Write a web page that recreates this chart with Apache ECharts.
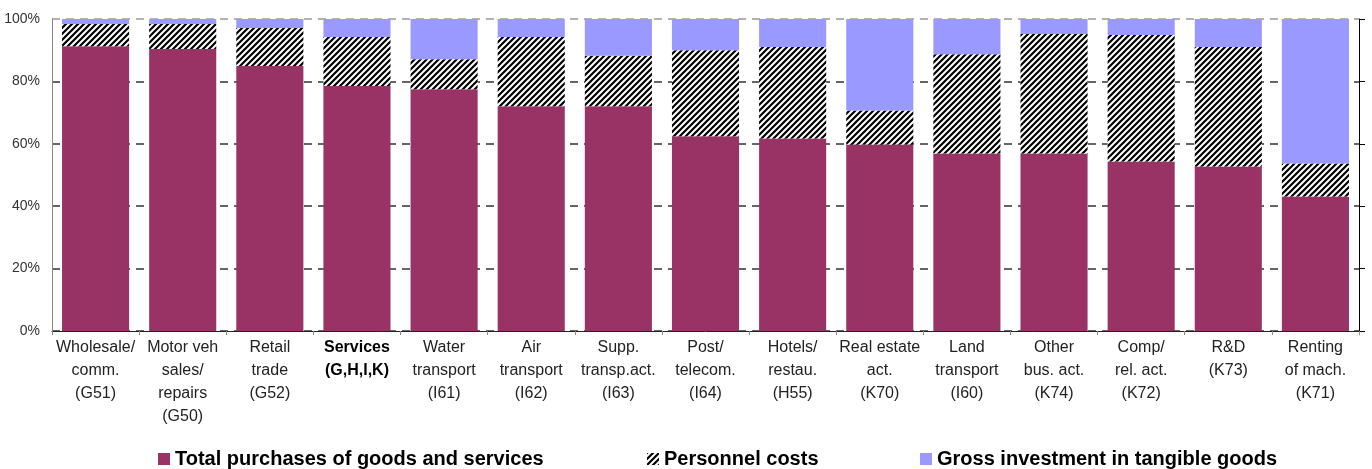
<!DOCTYPE html>
<html>
<head>
<meta charset="utf-8">
<script src="https://cdn.jsdelivr.net/npm/echarts@6/dist/echarts.min.js"></script>
<style>
  html, body { margin: 0; padding: 0; background: #fff; }
  #chart { width: 1372px; height: 469px; }
</style>
</head>
<body>
<div id="chart"></div>
<script>
// Activities (NACE codes), ordered by share of purchases
const categories = [
  'Wholesale/\ncomm.\n(G51)',
  'Motor veh\nsales/\nrepairs\n(G50)',
  'Retail\ntrade\n(G52)',
  'Services\n(G,H,I,K)',
  'Water\ntransport\n(I61)',
  'Air\ntransport\n(I62)',
  'Supp.\ntransp.act.\n(I63)',
  'Post/\ntelecom.\n(I64)',
  'Hotels/\nrestau.\n(H55)',
  'Real estate\nact.\n(K70)',
  'Land\ntransport\n(I60)',
  'Other\nbus. act.\n(K74)',
  'Comp/\nrel. act.\n(K72)',
  'R&D\n(K73)',
  'Renting\nof mach.\n(K71)'
];

// Shares of total expenditure (%)
const purchases  = [91.3, 90.4, 84.9, 78.5, 77.5, 72.0, 72.0, 62.4, 61.7, 59.8, 56.9, 56.9, 54.3, 52.7, 43.1];
const personnel  = [ 7.1,  8.0, 12.2, 15.7,  9.6, 22.2, 16.2, 27.6, 29.3, 10.9, 31.8, 38.3, 40.6, 38.3, 10.6];
const investment = [ 1.6,  1.6,  2.9,  5.8, 12.9,  5.8, 11.8, 10.0,  9.0, 29.3, 11.3,  4.8,  5.1,  9.0, 46.3];

const seriesNames = [
  'Total purchases of goods and services',
  'Personnel costs',
  'Gross investment in tangible goods'
];

const yTicks = [0, 20, 40, 60, 80, 100];

// Black/white diagonal hatching for personnel costs
function hatch() {
  const s = 6;
  const c = document.createElement('canvas');
  c.width = s; c.height = s;
  const g = c.getContext('2d');
  g.fillStyle = '#fff';
  g.fillRect(0, 0, s, s);
  g.strokeStyle = '#000';
  g.lineWidth = 2.2;
  g.beginPath();
  g.moveTo(-1, s + 1); g.lineTo(s + 1, -1);
  g.moveTo(-1, 1); g.lineTo(1, -1);
  g.moveTo(s - 1, s + 1); g.lineTo(s + 1, s - 1);
  g.stroke();
  return c;
}

const FONT = '"Liberation Sans", Arial, sans-serif';
const chart = echarts.init(document.getElementById('chart'), null, { renderer: 'canvas' });

const legendText = { fontFamily: FONT, fontWeight: 'bold', fontSize: 20, color: '#000' };
function legendAt(left, name) {
  return {
    left: left, top: 449, padding: 0, data: [name],
    itemWidth: 12, itemHeight: 12, itemGap: 0, icon: 'rect',
    textStyle: legendText, selectedMode: false
  };
}

chart.setOption({
  animation: false,
  grid: { left: 52, right: 13, top: 19, bottom: 138 },
  legend: [
    legendAt(158, seriesNames[0]),
    legendAt(647, seriesNames[1]),
    legendAt(920, seriesNames[2])
  ],
  xAxis: {
    type: 'category',
    data: categories,
    axisLine: { lineStyle: { color: '#222', width: 1 } },
    axisTick: { show: true, alignWithLabel: false, length: 4, lineStyle: { color: '#888' } },
    axisLabel: {
      interval: 0, margin: 5, color: '#222', fontFamily: FONT, fontSize: 16, lineHeight: 23,
      formatter: function (v) {
        if (v.indexOf('Services') === 0) {
          return v.split('\n').map(function (l) { return '{b|' + l + '}'; }).join('\n');
        }
        return v;
      },
      rich: { b: { fontWeight: 'bold', color: '#000', fontFamily: FONT, fontSize: 16, lineHeight: 23 } }
    }
  },
  yAxis: [
    {
      type: 'value', min: 0, max: 100, interval: 20,
      axisLine: { show: true, lineStyle: { color: '#888' } },
      axisTick: { show: false },
      axisLabel: {
        color: '#333', fontFamily: FONT, fontSize: 14, margin: 12,
        formatter: function (v) { return yTicks.indexOf(v) >= 0 ? v + '%' : ''; }
      },
      splitLine: {
        show: true,
        lineStyle: { color: ['#333', '#333', '#333', '#333', '#333', '#999'], type: [8, 6], width: 1.5 }
      }
    },
    {
      type: 'value', min: 0, max: 100, interval: 20, position: 'right',
      axisLine: { show: true, lineStyle: { color: '#000' } },
      axisTick: { show: true, inside: false, length: 6, lineStyle: { color: '#000' } },
      axisLabel: { show: false },
      splitLine: { show: false }
    }
  ],
  series: [
    { name: seriesNames[0], type: 'bar', stack: 'total', data: purchases,
      barCategoryGap: '23%', itemStyle: { color: '#993366' } },
    { name: seriesNames[1], type: 'bar', stack: 'total', data: personnel,
      itemStyle: { color: { image: hatch(), repeat: 'repeat' } } },
    { name: seriesNames[2], type: 'bar', stack: 'total', data: investment,
      itemStyle: { color: '#9999FF' } }
  ]
});
</script>
</body>
</html>
